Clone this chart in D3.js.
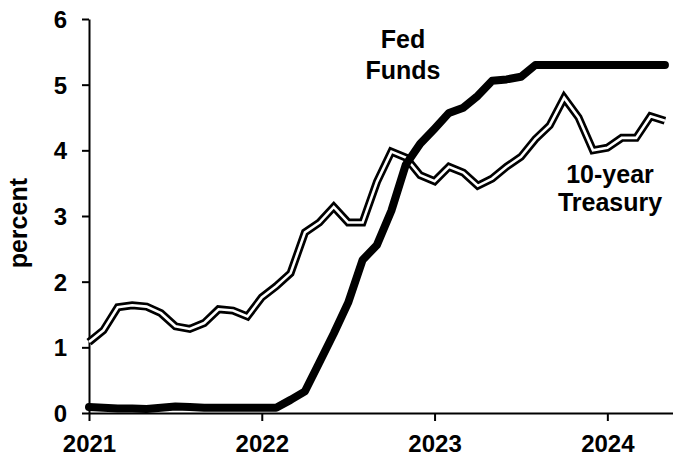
<!DOCTYPE html>
<html>
<head>
<meta charset="utf-8">
<script src="https://cdn.jsdelivr.net/npm/d3@7"></script>
<style>
  html, body { margin: 0; padding: 0; background: #fff; }
  svg { display: block; }
  text { font-family: "Liberation Sans", Arial, sans-serif; font-weight: bold; fill: #000; }
</style>
</head>
<body>
<svg id="chart" width="673" height="458"></svg>
<script>
// Monthly data, Jan 2021 - May 2024
const startYear = 2021;
const fedFunds = [
  0.09, 0.08, 0.07, 0.07, 0.06, 0.08, 0.10, 0.09, 0.08, 0.08, 0.08, 0.08,
  0.08, 0.08, 0.20, 0.33, 0.77, 1.21, 1.68, 2.33, 2.56, 3.08, 3.78, 4.10,
  4.33, 4.57, 4.65, 4.83, 5.06, 5.08, 5.12, 5.30, 5.30, 5.30, 5.30, 5.30,
  5.30, 5.30, 5.30, 5.30, 5.30
];
const treasury10 = [
  1.08, 1.26, 1.61, 1.64, 1.62, 1.52, 1.32, 1.28, 1.37, 1.58, 1.56, 1.47,
  1.76, 1.93, 2.13, 2.75, 2.90, 3.14, 2.90, 2.90, 3.52, 3.98, 3.89, 3.62,
  3.53, 3.75, 3.66, 3.46, 3.57, 3.75, 3.90, 4.17, 4.38, 4.80, 4.50, 4.00,
  4.04, 4.19, 4.19, 4.52, 4.45
];
const xTicks = [2021, 2022, 2023, 2024];
const yTicks = [0, 1, 2, 3, 4, 5, 6];
const yLabel = "percent";
const fedLabel = ["Fed", "Funds"];
const treasLabel = ["10-year", "Treasury"];

const svg = d3.select("#chart");

const x = d3.scaleLinear().domain([2021, 2024.38]).range([89, 673]);
const y = d3.scaleLinear().domain([0, 6]).range([413, 19]);

const dateOf = i => startYear + i / 12;

// Y axis
const yAxis = svg.append("g")
  .attr("transform", `translate(${x(2021)},0)`)
  .call(d3.axisLeft(y).tickValues(yTicks).tickFormat(d3.format("d"))
    .tickSize(7).tickSizeOuter(0).tickPadding(15));
yAxis.selectAll("path, line").attr("stroke", "#000").attr("stroke-width", 2);
yAxis.selectAll("text").style("font-size", "24px").attr("dy", "0.36em");

// X axis
const xAxis = svg.append("g")
  .attr("transform", `translate(0,${y(0)})`)
  .call(d3.axisBottom(x).tickValues(xTicks).tickFormat(d3.format("d"))
    .tickSize(8).tickSizeOuter(0).tickPadding(14));
xAxis.selectAll("path, line").attr("stroke", "#000").attr("stroke-width", 2);
xAxis.selectAll("text").style("font-size", "24px");

// Y axis title
svg.append("text")
  .attr("transform", `translate(27,${(y(3) + y(4)) / 2 + 40}) rotate(-90)`)
  .attr("text-anchor", "middle")
  .style("font-size", "25px")
  .text(yLabel);

const line = d3.line()
  .x((d, i) => x(dateOf(i)))
  .y(d => y(d));

// 10-year Treasury: double line (black outline, white core)
svg.append("path")
  .datum(treasury10)
  .attr("d", line)
  .attr("fill", "none")
  .attr("stroke", "#000")
  .attr("stroke-width", 8)
  .attr("stroke-linejoin", "miter")
  .attr("stroke-linecap", "butt");
svg.append("path")
  .datum(treasury10)
  .attr("d", line)
  .attr("fill", "none")
  .attr("stroke", "#fff")
  .attr("stroke-width", 2.6)
  .attr("stroke-linejoin", "miter")
  .attr("stroke-linecap", "butt");

// Fed Funds: thick black line
svg.append("path")
  .datum(fedFunds)
  .attr("d", line)
  .attr("fill", "none")
  .attr("stroke", "#000")
  .attr("stroke-width", 8)
  .attr("stroke-linejoin", "round")
  .attr("stroke-linecap", "round");

// Labels
const fedText = svg.append("text")
  .attr("text-anchor", "middle")
  .style("font-size", "25px");
fedLabel.forEach((t, i) => fedText.append("tspan").attr("x", 403).attr("y", 48 + i * 31).text(t));

const trText = svg.append("text")
  .attr("text-anchor", "middle")
  .style("font-size", "25px");
treasLabel.forEach((t, i) => trText.append("tspan").attr("x", 610).attr("y", 183 + i * 28).text(t));
</script>
</body>
</html>
